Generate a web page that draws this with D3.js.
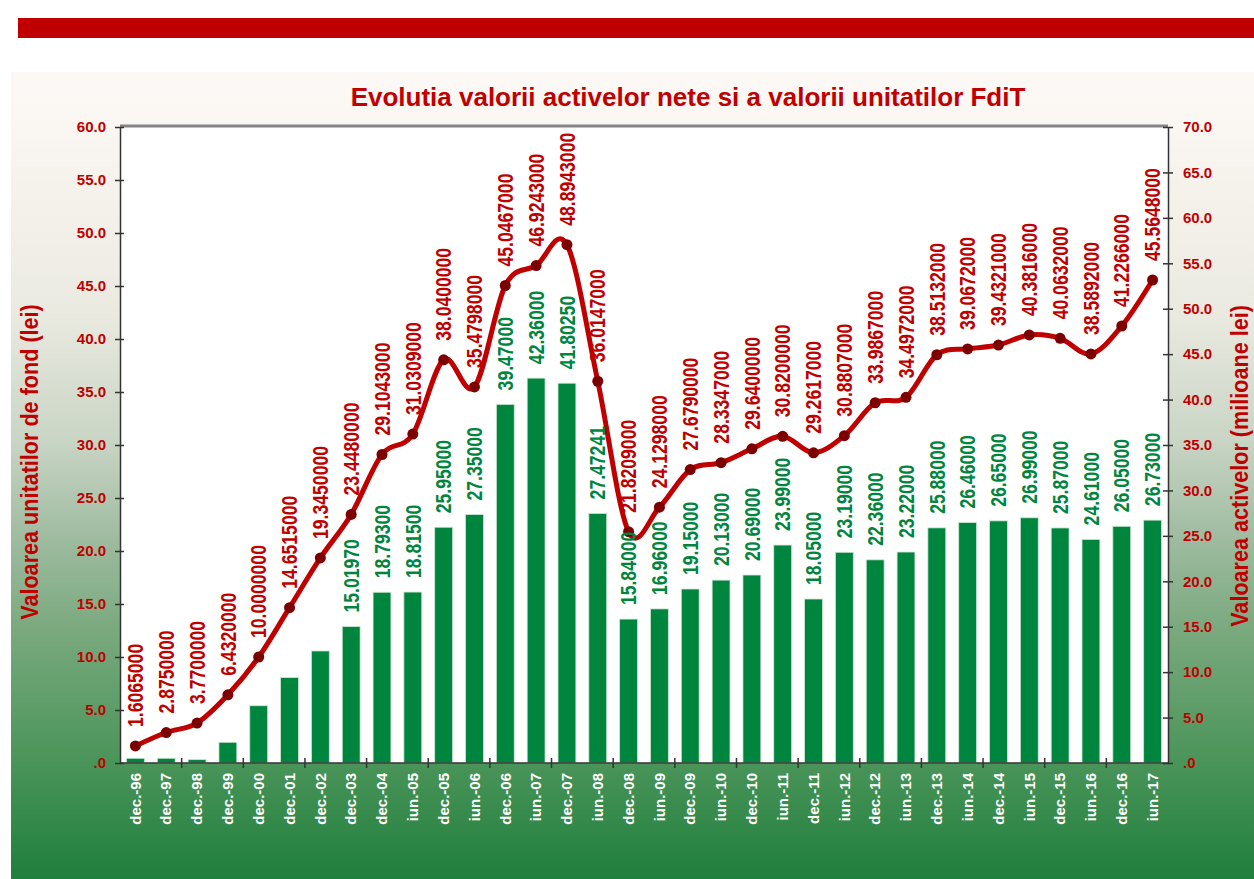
<!DOCTYPE html>
<html>
<head>
<meta charset="utf-8">
<script src="https://cdn.jsdelivr.net/npm/d3@7"></script>
<style>
  body { margin: 0; background: #ffffff; }
  text { font-family: "Liberation Sans", Arial, sans-serif; font-weight: bold; }
</style>
</head>
<body>
<div id="chart"></div>
<script>
const categories = ["dec.-96", "dec.-97", "dec.-98", "dec.-99", "dec.-00", "dec.-01", "dec.-02", "dec.-03", "dec.-04",
    "iun.-05", "dec.-05", "iun.-06", "dec.-06", "iun.-07", "dec.-07", "iun.-08", "dec.-08", "iun.-09", "dec.-09",
    "iun.-10", "dec.-10", "iun.-11", "dec.-11", "iun.-12", "dec.-12", "iun.-13", "dec.-13", "iun.-14", "dec.-14",
    "iun.-15", "dec.-15", "iun.-16", "dec.-16", "iun.-17"];

/* valoarea activelor nete (milioane lei) - bars, right axis */
const assets = [0.52, 0.52, 0.37, 2.28, 6.3, 9.4, 12.33, 15.0197, 18.793,
    18.815, 25.95, 27.35, 39.47, 42.36, 41.8025, 27.47241, 15.84, 16.96, 19.15,
    20.13, 20.69, 23.99, 18.05, 23.19, 22.36, 23.22, 25.88, 26.46, 26.65,
    26.99, 25.87, 24.61, 26.05, 26.73];
/* first bars have no label in the original */
const assetLabelFrom = 7;

/* valoarea unitatii de fond (lei) - line, left axis */
const unitValue = [1.6065, 2.875, 3.77, 6.432, 10.0, 14.6515, 19.345, 23.448, 29.1043,
    31.0309, 38.04, 35.4798, 45.0467, 46.9243, 48.8943, 36.0147, 21.8209, 24.1298, 27.679,
    28.3347, 29.64, 30.82, 29.2617, 30.8807, 33.9867, 34.4972, 38.5132, 39.0672, 39.4321,
    40.3816, 40.0632, 38.5892, 41.2266, 45.5648];

const leftTicks = d3.range(0, 60.01, 5);
const rightTicks = d3.range(0, 70.01, 5);

const W = 1254, H = 879;
const plot = { left: 120, right: 1168, top: 127, bottom: 763 };

const svg = d3.select("#chart").append("svg")
    .attr("width", W)
    .attr("height", H);

/* background gradient panel */
const grad = svg.append("defs").append("linearGradient")
    .attr("id", "bg").attr("x1", 0).attr("y1", 0).attr("x2", 0).attr("y2", 1);
[[0, "#fcf8f5"], [0.05, "#fbf7f3"], [0.295, "#ebeae1"], [0.456, "#c9d5c5"], [0.568, "#a2bda3"],
 [0.691, "#7aa97e"], [0.856, "#4a9459"], [1, "#1f7f3c"]].forEach(function(s) {
    grad.append("stop").attr("offset", s[0]).attr("stop-color", s[1]);
});

svg.append("rect")
    .attr("x", 18).attr("y", 18).attr("width", W - 18).attr("height", 20)
    .attr("fill", "#c00000");

svg.append("rect")
    .attr("x", 11).attr("y", 72).attr("width", W - 11).attr("height", H - 72)
    .attr("fill", "url(#bg)");

/* title */
svg.append("text")
    .attr("x", 688).attr("y", 106)
    .attr("text-anchor", "middle")
    .style("font-size", "26px")
    .attr("fill", "#c00000")
    .text("Evolutia valorii activelor nete si a valorii unitatilor FdiT");

/* plot area */
svg.append("rect")
    .attr("x", plot.left).attr("y", plot.top)
    .attr("width", plot.right - plot.left).attr("height", plot.bottom - plot.top)
    .attr("fill", "#ffffff");
svg.append("line")
    .attr("x1", plot.left).attr("x2", plot.right)
    .attr("y1", plot.top - 1).attr("y2", plot.top - 1)
    .attr("stroke", "#858585").attr("stroke-width", 3);

/* scales */
const x = d3.scaleBand()
    .domain(categories)
    .range([plot.left, plot.right])
    .paddingInner(0.42)
    .paddingOuter(0.21);
const xc = function(d) { return x(d) + x.bandwidth() / 2; };

const yLeft = d3.scaleLinear().domain([0, 60]).range([plot.bottom, plot.top]);
const yRight = d3.scaleLinear().domain([0, 70]).range([plot.bottom, plot.top]);

const fmtTick = function(d) { return d === 0 ? ".0" : d3.format(".1f")(d); };

/* left axis */
const gl = svg.append("g")
    .attr("transform", "translate(" + plot.left + ",0)")
    .call(d3.axisLeft(yLeft).tickValues(leftTicks).tickFormat(fmtTick).tickSizeInner(5).tickSizeOuter(0).tickPadding(9));
gl.selectAll(".tick line").attr("x2", 4).attr("x1", -5);
gl.selectAll(".tick line, .domain").attr("stroke", "#333333").attr("stroke-width", 1.5);
gl.selectAll("text").attr("fill", "#c00000").style("font-size", "15px").style("font-family", "Liberation Sans, Arial, sans-serif").style("font-weight", "bold");

/* right axis */
const gr = svg.append("g")
    .attr("transform", "translate(" + plot.right + ",0)")
    .call(d3.axisRight(yRight).tickValues(rightTicks).tickFormat(fmtTick).tickSizeInner(5).tickSizeOuter(0).tickPadding(10));
gr.selectAll(".tick line").attr("x1", -5).attr("x2", 5);
gr.selectAll(".tick line, .domain").attr("stroke", "#333333").attr("stroke-width", 1.5);
gr.selectAll("text").attr("fill", "#c00000").style("font-size", "15px").style("font-family", "Liberation Sans, Arial, sans-serif").style("font-weight", "bold");

/* bars */
svg.append("g").selectAll("rect")
    .data(categories)
    .enter().append("rect")
    .attr("x", function(d) { return x(d); })
    .attr("width", x.bandwidth())
    .attr("y", function(d, i) { return yRight(assets[i]); })
    .attr("height", function(d, i) { return plot.bottom - yRight(assets[i]); })
    .attr("fill", "#00853e")
    .attr("stroke", "#cde6d3")
    .attr("stroke-width", 0.8);

/* x axis */
const gx = svg.append("g")
    .attr("transform", "translate(0," + plot.bottom + ")");
gx.append("line")
    .attr("x1", plot.left).attr("x2", plot.right)
    .attr("stroke", "#333333").attr("stroke-width", 1.5);
gx.selectAll(".xtick")
    .data(categories.filter(function(d, i) { return i % 2 === 0 && i > 0; }))
    .enter().append("line")
    .attr("class", "xtick")
    .attr("x1", function(d) { return x(d) - x.step() * 0.21; })
    .attr("x2", function(d) { return x(d) - x.step() * 0.21; })
    .attr("y1", -5).attr("y2", 5)
    .attr("stroke", "#333333").attr("stroke-width", 1.5);
gx.selectAll(".xlab")
    .data(categories)
    .enter().append("text")
    .attr("class", "xlab")
    .attr("transform", function(d) { return "translate(" + xc(d) + ",10) rotate(-90)"; })
    .attr("text-anchor", "end")
    .attr("dy", "0.35em")
    .attr("fill", "#ffffff")
    .style("font-size", "15px")
    .text(function(d) { return d; });

/* line */
const line = d3.line()
    .x(function(d, i) { return xc(categories[i]); })
    .y(function(d) { return yLeft(d); })
    .curve(d3.curveCardinal.tension(0));

svg.append("path")
    .datum(unitValue)
    .attr("d", line)
    .attr("fill", "none")
    .attr("stroke", "#c00000")
    .attr("stroke-width", 5)
    .attr("stroke-linejoin", "round");

svg.append("g").selectAll("circle")
    .data(unitValue)
    .enter().append("circle")
    .attr("cx", function(d, i) { return xc(categories[i]); })
    .attr("cy", function(d) { return yLeft(d); })
    .attr("r", 5.5)
    .attr("fill", "#7d0000");

/* narrow look: squeeze text along its own direction */
const narrow = " scale(0.8,1)";

/* bar labels */
svg.append("g").selectAll("text")
    .data(assets.map(function(v, i) { return { v: v, c: categories[i], i: i }; }).filter(function(d) { return d.i >= assetLabelFrom; }))
    .enter().append("text")
    .attr("transform", function(d) { return "translate(" + xc(d.c) + "," + (yRight(d.v) - 14) + ") rotate(-90)" + narrow; })
    .attr("dy", "0.35em")
    .attr("fill", "#00853e")
    .style("font-size", "22px")
    .text(function(d) { return d.v.toFixed(5); });

/* line labels */
svg.append("g").selectAll("text")
    .data(unitValue)
    .enter().append("text")
    .attr("transform", function(d, i) { return "translate(" + xc(categories[i]) + "," + (yLeft(d) - 19) + ") rotate(-90)" + narrow; })
    .attr("dy", "0.35em")
    .attr("fill", "#c00000")
    .style("font-size", "22px")
    .text(function(d) { return d.toFixed(7); });

/* axis titles */
svg.append("text")
    .attr("transform", "translate(30,462) rotate(-90) scale(0.9,1)")
    .attr("text-anchor", "middle")
    .attr("dy", "0.35em")
    .attr("fill", "#c00000")
    .style("font-size", "24px")
    .text("Valoarea unitatilor de fond (lei)");

svg.append("text")
    .attr("transform", "translate(1240,466) rotate(-90) scale(0.9,1)")
    .attr("text-anchor", "middle")
    .attr("dy", "0.35em")
    .attr("fill", "#c00000")
    .style("font-size", "24px")
    .text("Valoarea activelor (milioane lei)");
</script>
</body>
</html>
